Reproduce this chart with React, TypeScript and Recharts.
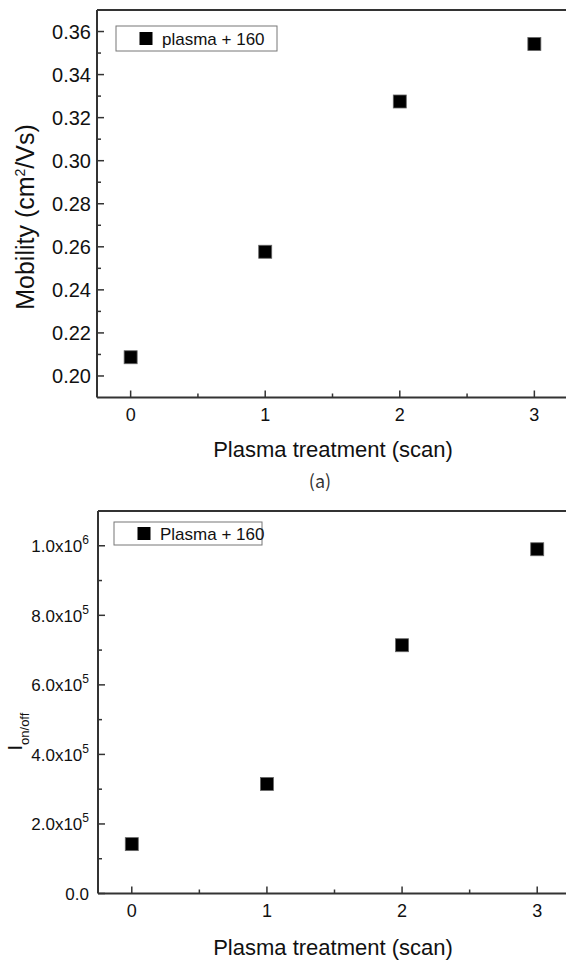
import React from 'react';
import { ScatterChart, Scatter, XAxis, YAxis, ReferenceLine } from 'recharts';

// plasma treatment scans
const scans = [0, 1, 2, 3];
// panel (a): field-effect mobility, cm2/Vs
const mobility = [0.2087, 0.2577, 0.3275, 0.3542];
// panel (b): on/off current ratio
const onOffRatio = [1.42e5, 3.15e5, 7.14e5, 9.9e5];

const scanTicks = [0, 0.5, 1, 1.5, 2, 2.5, 3];
const mobilityTicks = [0.2, 0.21, 0.22, 0.23, 0.24, 0.25, 0.26, 0.27, 0.28, 0.29, 0.3, 0.31, 0.32, 0.33, 0.34, 0.35, 0.36];
const onOffTicks = [0, 1e5, 2e5, 3e5, 4e5, 5e5, 6e5, 7e5, 8e5, 9e5, 1e6];

const FONT = "'Liberation Sans', Arial, sans-serif";
const AXIS = '#333';

const mobilityData = scans.map((s, i) => ({ scan: s, value: mobility[i] }));
const onOffData = scans.map((s, i) => ({ scan: s, value: onOffRatio[i] }));

const Square = (props: any) => {
  const { cx, cy } = props;
  return <rect x={cx - 6.5} y={cy - 6.5} width={13} height={13} fill="#000" stroke="#666" strokeWidth={0.8} />;
};

const ScanTick = (props: any) => {
  const { x, y, payload } = props;
  const major = Number.isInteger(payload.value);
  return (
    <g>
      <line x1={x} x2={x} y1={y} y2={y - (major ? 7 : 4)} stroke={AXIS} strokeWidth={1.5} />
      {major && (
        <text x={x} y={y + 23.5} textAnchor="middle" fontSize={18} fontFamily={FONT} fill="#111">
          {payload.value}
        </text>
      )}
    </g>
  );
};

const MobilityTick = (props: any) => {
  const { x, y, payload } = props;
  const major = Math.round(payload.value * 100) % 2 === 0;
  return (
    <g>
      <line x1={x} x2={x + (major ? 7 : 4)} y1={y} y2={y} stroke={AXIS} strokeWidth={1.5} />
      {major && (
        <text x={x - 6} y={y} dy="0.36em" textAnchor="end" fontSize={20} fontFamily={FONT} fill="#111">
          {payload.value.toFixed(2)}
        </text>
      )}
    </g>
  );
};

const OnOffTick = (props: any) => {
  const { x, y, payload } = props;
  const v = payload.value;
  const major = Math.round(v / 1e5) % 2 === 0;
  let label: React.ReactNode = '0.0';
  if (v > 0) {
    const exp = Math.floor(Math.log10(v) + 1e-9);
    const mant = (v / Math.pow(10, exp)).toFixed(1);
    label = (
      <>
        {mant + 'x10'}
        <tspan dy={-8} fontSize={12}>{exp}</tspan>
      </>
    );
  }
  return (
    <g>
      <line x1={x} x2={x + (major ? 7 : 4)} y1={y} y2={y} stroke={AXIS} strokeWidth={1.5} />
      {major && (
        <text x={x - 9} y={y + 6.5} textAnchor="end" fontSize={17} fontFamily={FONT} fill="#111">
          {label}
        </text>
      )}
    </g>
  );
};

const Legend = ({ x, y, w, h, text }: { x: number; y: number; w: number; h: number; text: string }) => (
  <g>
    <rect x={x} y={y} width={w} height={h} fill="#fff" stroke="#777" strokeWidth={1} />
    <rect x={x + 23.5} y={y + h / 2 - 6.5} width={13} height={13} fill="#000" />
    <text x={x + 46} y={y + h / 2 + 6} fontSize={17} fontFamily={FONT} fill="#111">
      {text}
    </text>
  </g>
);

export default function App() {
  return (
    <div style={{ position: 'absolute', left: 0, top: 0, width: 566, height: 960, overflow: 'hidden', background: '#fff' }}>
      <div style={{ position: 'absolute', left: 0, top: 0 }}>
        <ScatterChart width={570} height={500} margin={{ top: 10, right: 2, bottom: 62.5, left: 0 }}>
          <XAxis
            dataKey="scan"
            type="number"
            domain={[-0.25, 3.25]}
            ticks={scanTicks}
            interval={0}
            allowDataOverflow
            height={40}
            tickSize={0}
            tickMargin={0}
            tickLine={false}
            tick={<ScanTick />}
            axisLine={{ stroke: AXIS, strokeWidth: 2 }}
          />
          <YAxis
            dataKey="value"
            type="number"
            domain={[0.19, 0.37]}
            ticks={mobilityTicks}
            interval={0}
            allowDataOverflow
            width={97}
            tickSize={0}
            tickMargin={0}
            tickLine={false}
            tick={<MobilityTick />}
            axisLine={{ stroke: AXIS, strokeWidth: 2 }}
          />
          <ReferenceLine y={0.37} stroke={AXIS} strokeWidth={2} />
          <Scatter data={mobilityData} shape={<Square />} isAnimationActive={false} />
        </ScatterChart>
      </div>
      <div style={{ position: 'absolute', left: 0, top: 500 }}>
        <ScatterChart width={571} height={460} margin={{ top: 11, right: 0, bottom: 26.5, left: 0 }}>
          <XAxis
            dataKey="scan"
            type="number"
            domain={[-0.25, 3.25]}
            ticks={scanTicks}
            interval={0}
            allowDataOverflow
            height={40}
            tickSize={0}
            tickMargin={0}
            tickLine={false}
            tick={<ScanTick />}
            axisLine={{ stroke: AXIS, strokeWidth: 2 }}
          />
          <YAxis
            dataKey="value"
            type="number"
            domain={[0, 1.1e6]}
            ticks={onOffTicks}
            interval={0}
            allowDataOverflow
            width={98}
            tickSize={0}
            tickMargin={0}
            tickLine={false}
            tick={<OnOffTick />}
            axisLine={{ stroke: AXIS, strokeWidth: 2 }}
          />
          <ReferenceLine y={1.1e6} stroke={AXIS} strokeWidth={2} />
          <Scatter data={onOffData} shape={<Square />} isAnimationActive={false} />
        </ScatterChart>
      </div>
      <svg width={566} height={960} style={{ position: 'absolute', left: 0, top: 0, pointerEvents: 'none' }}>
        <Legend x={116} y={26} w={161} h={25} text="plasma + 160" />
        <Legend x={114} y={522} w={148} h={23} text="Plasma + 160" />
        <text x={333} y={457} textAnchor="middle" fontSize={22} fontFamily={FONT} fill="#111">
          Plasma treatment (scan)
        </text>
        <text x={320} y={488} textAnchor="middle" fontSize={18} fontFamily="'Noto Sans CJK KR', sans-serif" fill="#333">
          (a)
        </text>
        <text x={333} y={955} textAnchor="middle" fontSize={22} fontFamily={FONT} fill="#111">
          Plasma treatment (scan)
        </text>
        <text
          transform="translate(34, 217) rotate(-90)"
          textAnchor="middle"
          fontSize={25}
          fontFamily={FONT}
          fill="#111"
        >
          Mobility (cm<tspan dy={-9} fontSize={14}>2</tspan>
          <tspan dy={9}>/Vs)</tspan>
        </text>
        <text transform="translate(22, 750.5) rotate(-90)" fontSize={20} fontFamily={FONT} fill="#111">
          I<tspan dy={7} fontSize={13}>on/off</tspan>
        </text>
      </svg>
    </div>
  );
}
